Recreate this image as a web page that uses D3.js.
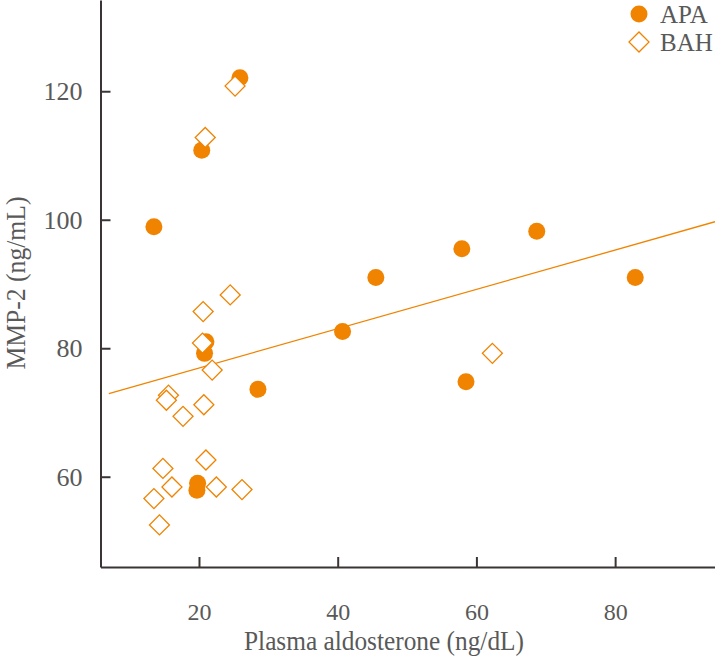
<!DOCTYPE html>
<html>
<head>
<meta charset="utf-8">
<script src="https://cdn.jsdelivr.net/npm/d3@7"></script>
<style>
  html, body { margin: 0; padding: 0; background: #fff; }
  svg { display: block; }
</style>
</head>
<body>
<svg id="chart" width="715" height="656"></svg>
<script>
// ---- data ----
const apaX = [25.9, 20.4, 13.5, 21.0, 20.8, 19.8, 19.7, 28.5, 40.7, 45.5, 57.9, 58.5, 68.7, 82.9];
const apaY = [122.1, 110.8, 98.9, 81.0, 79.2, 59.0, 57.9, 73.6, 82.6, 91.0, 95.5, 74.8, 98.2, 91.0];
const bahX = [25.2, 20.9, 24.5, 20.6, 20.5, 21.9, 15.6, 15.3, 20.7, 17.7, 21.0, 14.8, 16.1, 22.5, 26.2, 13.5, 14.3, 62.3];
const bahY = [120.8, 112.8, 88.3, 85.7, 80.8, 76.6, 72.7, 71.9, 71.2, 69.4, 62.6, 61.3, 58.4, 58.4, 58.0, 56.6, 52.5, 79.2];
const fitLine = { intercept: 70.8, slope: 0.306, xFrom: 7.0, xTo: 94.4 };
const xTicks = [20, 40, 60, 80];
const yTicks = [60, 80, 100, 120];
const legendLabels = ["APA", "BAH"];
const xTitle = "Plasma aldosterone (ng/dL)";
const yTitle = "MMP-2 (ng/mL)";

// ---- styles ----
const ORANGE = "#F08300";
const AXIS = "#3b3434";
const TEXT = "#595959";
const FONT = "'Liberation Serif', 'Times New Roman', serif";

const svg = d3.select("#chart");
const x = d3.scaleLinear().domain([5.8, 94.4]).range([100.5, 715]);
const y = d3.scaleLinear().domain([45.95, 134.2]).range([567, 0]);

// axes
const gx = svg.append("g").attr("transform", "translate(0,567)")
  .call(d3.axisBottom(x).tickValues(xTicks).tickSizeInner(-10).tickSizeOuter(0).tickPadding(36).tickFormat(d3.format("d")));
const gy = svg.append("g").attr("transform", "translate(100.5,0)")
  .call(d3.axisLeft(y).tickValues(yTicks).tickSizeInner(-10).tickSizeOuter(0).tickPadding(18).tickFormat(d3.format("d")));
[gx, gy].forEach(g => {
  g.select(".domain").attr("stroke", AXIS).attr("stroke-width", 2);
  g.selectAll(".tick line").attr("stroke", AXIS).attr("stroke-width", 2);
  g.selectAll(".tick text").attr("fill", TEXT).style("font-family", FONT);
});
gx.selectAll(".tick text").style("font-size", "24px");
gy.selectAll(".tick text").style("font-size", "26px");

// titles
svg.append("text").attr("x", 384).attr("y", 650).attr("text-anchor", "middle")
  .attr("textLength", 280).attr("lengthAdjust", "spacingAndGlyphs")
  .attr("fill", TEXT).style("font-family", FONT).style("font-size", "27px").text(xTitle);
svg.append("text").attr("transform", "translate(24.5,283) rotate(-90)").attr("text-anchor", "middle")
  .attr("textLength", 173).attr("lengthAdjust", "spacingAndGlyphs")
  .attr("fill", TEXT).style("font-family", FONT).style("font-size", "27px").text(yTitle);

// regression line
svg.append("line")
  .attr("x1", x(fitLine.xFrom)).attr("y1", y(fitLine.intercept + fitLine.slope * fitLine.xFrom))
  .attr("x2", x(fitLine.xTo)).attr("y2", y(fitLine.intercept + fitLine.slope * fitLine.xTo))
  .attr("stroke", ORANGE).attr("stroke-width", 1.3);

// APA circles
const apa = apaX.map((v, i) => ({ x: v, y: apaY[i] }));
svg.append("g").selectAll("circle").data(apa).join("circle")
  .attr("cx", d => x(d.x)).attr("cy", d => y(d.y)).attr("r", 8.5).attr("fill", ORANGE);

// BAH diamonds
const bah = bahX.map((v, i) => ({ x: v, y: bahY[i] }));
const diamond = d3.symbol().type(d3.symbolSquare).size(200);
svg.append("g").selectAll("path").data(bah).join("path")
  .attr("d", diamond)
  .attr("transform", d => `translate(${x(d.x)},${y(d.y)}) rotate(45)`)
  .attr("fill", "#fff").attr("stroke", ORANGE).attr("stroke-width", 1.3);

// legend
const lg = svg.append("g");
lg.append("circle").attr("cx", 639).attr("cy", 14).attr("r", 8.5).attr("fill", ORANGE);
lg.append("path").attr("d", diamond).attr("transform", "translate(639,42) rotate(45)")
  .attr("fill", "#fff").attr("stroke", ORANGE).attr("stroke-width", 1.3);
legendLabels.forEach((t, i) => {
  lg.append("text").attr("x", 660).attr("y", 14 + i * 28).attr("dy", "0.35em")
    .attr("fill", TEXT).style("font-family", FONT).style("font-size", "25px").text(t);
});
</script>
</body>
</html>
